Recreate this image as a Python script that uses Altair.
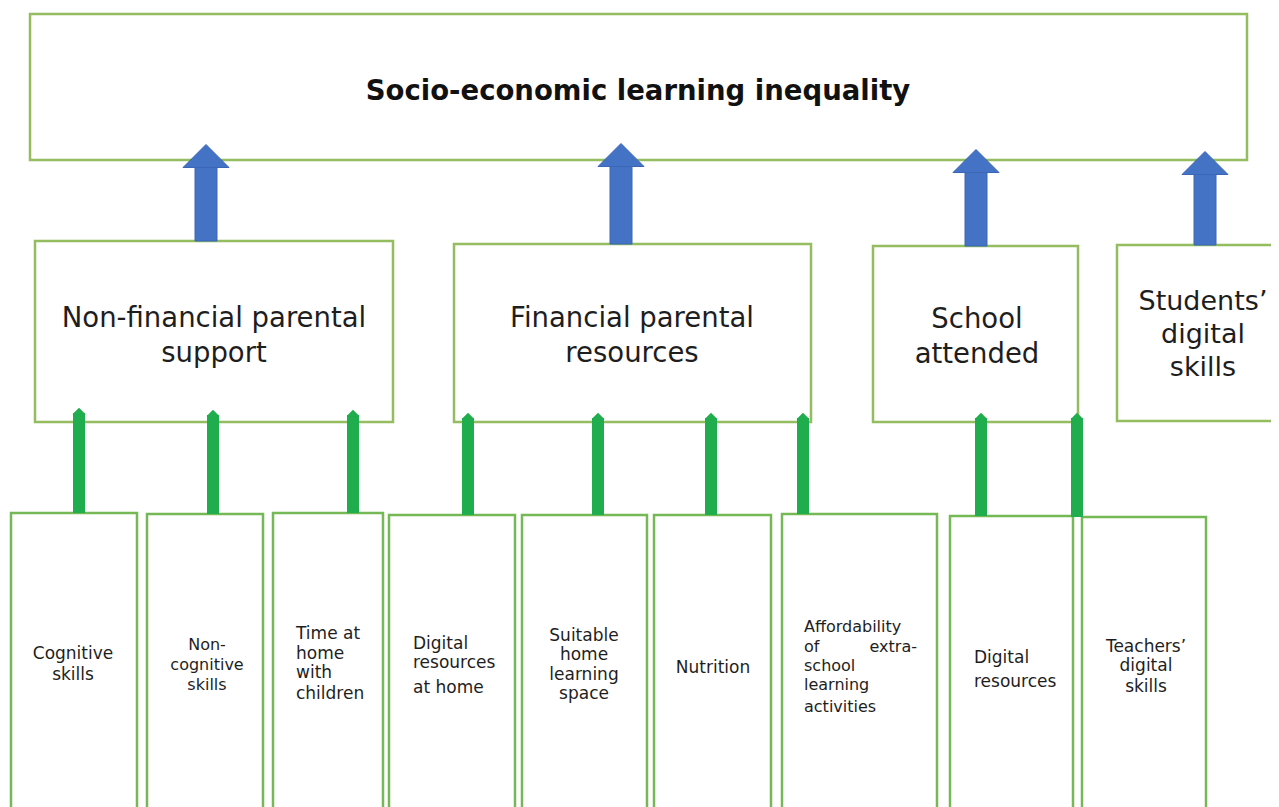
import altair as alt
import pandas as pd

# ---------------- data (diagram content) ----------------
title_text = "Socio-economic learning inequality"

mid_names = ["Non-financial parental support", "Financial parental resources",
             "School attended", "Students’ digital skills"]
mid_lines = [["Non-financial parental", "support"],
             ["Financial parental", "resources"],
             ["School", "attended"],
             ["Students’", "digital", "skills"]]

bottom_names = ["Cognitive skills", "Non-cognitive skills", "Time at home with children",
                "Digital resources at home", "Suitable home learning space", "Nutrition",
                "Affordability of extra-school learning activities", "Digital resources",
                "Teachers’ digital skills"]
bottom_lines = [["Cognitive", "skills"],
                ["Non-", "cognitive", "skills"],
                ["Time at", "home", "with", "children"],
                ["Digital", "resources", "at home"],
                ["Suitable", "home", "learning", "space"],
                ["Nutrition"],
                ["Affordability", "of", "school", "learning", "activities"],
                ["Digital", "resources"],
                ["Teachers’", "digital", "skills"]]
# which middle box each bottom factor feeds into
bottom_parent = [0, 0, 0, 1, 1, 1, 1, 2, 2]

# ---------------- layout (pixel frame of the 1279x807 page) ----------------
top_box = dict(x1=30, x2=1247, y1=14, y2=160)
title_pos = dict(x=638, y=100, size=27.5)

mid_x1 = [35, 454, 873, 1117]
mid_x2 = [393, 811, 1078, 1290]
mid_y1 = [241, 244, 246, 245]
mid_y2 = [422, 422, 422, 421]
mid_text_x = [214, 632, 977, 1203]
mid_text_base = [[327, 362], [327, 362], [328, 363], [310, 343, 376]]
mid_text_size = [27.5, 27.5, 27.5, 27]

bot_x1 = [11, 147, 273, 389, 522, 654, 782, 950, 1082]
bot_x2 = [137, 263, 383, 515, 647, 771, 937, 1073, 1206]
bot_y1 = [513, 514, 513, 515, 515, 515, 514, 516, 517]
bot_y2 = 815
bot_text_x = [73, 207, 296, 413, 584, 713, 804, 974, 1146]
bot_text_align = ["center", "center", "left", "left", "center", "center", "left", "left", "center"]
bot_text_base = [[659, 680], [650, 670, 690], [639, 659, 678, 699], [649, 668, 693],
                 [641, 660, 680, 699], [673], [632, 652, 671, 690, 712], [663, 687],
                 [652, 671, 692]]
bot_text_size = [17, 16, 17, 17, 17, 17, 16, 17, 17]
extra_word = dict(text="extra-", x=917, y=652, size=16)

blue_x = [206, 621, 976, 1205]
blue_tip = [145, 144, 150, 152]
blue_end = mid_y1
green_x = [79, 213, 353, 468, 598, 711, 803, 981, 1077]
green_tip = [408, 410, 410, 413, 413, 413, 413, 413, 413]
green_end = bot_y1

BLUE = "#4472C4"
BLUE_EDGE = "#3A66B5"
GREEN = "#1FAD4E"
BOX_TOP = "#93BD5E"
BOX_BOT = "#74B956"
TEXT = "#1E1E1E"
FONT = "DejaVu Sans"

# page frame: 8px margin around the chart in a 1279x807 window
W, H = 1263, 799

# ---------------- tables ----------------
xs = alt.Scale(domain=[8, 8 + W], nice=False, zero=False)
ys = alt.Scale(domain=[8, 8 + H], nice=False, zero=False, reverse=True)
X = lambda f: alt.X(f, type="quantitative", scale=xs, axis=None)
Y = lambda f: alt.Y(f, type="quantitative", scale=ys, axis=None)

boxes_top = pd.DataFrame(
    [dict(name=title_text, **top_box)] +
    [dict(name=n, x1=a, x2=b, y1=c, y2=d)
     for n, a, b, c, d in zip(mid_names, mid_x1, mid_x2, mid_y1, mid_y2)])
boxes_bot = pd.DataFrame([dict(name=n, x1=a, x2=b, y1=c, y2=bot_y2)
                          for n, a, b, c in zip(bottom_names, bot_x1, bot_x2, bot_y1)])

blue_df = pd.DataFrame(dict(x=blue_x, tip=blue_tip, end=blue_end))
blue_df["xl"] = blue_df.x - 11
blue_df["xr"] = blue_df.x + 11
blue_df["shaft_top"] = blue_df.tip + 21
blue_df["head_c"] = blue_df.tip + 11

green_df = pd.DataFrame(dict(x=green_x, tip=green_tip, end=green_end,
                             parent=[mid_names[p] for p in bottom_parent]))
green_df["xl"] = green_df.x - 6
green_df["xr"] = green_df.x + 6
green_df["shaft_top"] = green_df.tip + 5
green_df["head_c"] = green_df.tip + 3

mid_rows = []
for lines, x, bases, s in zip(mid_lines, mid_text_x, mid_text_base, mid_text_size):
    for t, b in zip(lines, bases):
        mid_rows.append(dict(text=t, x=x, y=b, size=s))
mid_txt = pd.DataFrame(mid_rows)

left_rows, center_rows = [], []
for lines, x, al, bases, s in zip(bottom_lines, bot_text_x, bot_text_align,
                                  bot_text_base, bot_text_size):
    for t, b in zip(lines, bases):
        (left_rows if al == "left" else center_rows).append(dict(text=t, x=x, y=b, size=s))
bot_left = pd.DataFrame(left_rows)
bot_center = pd.DataFrame(center_rows)
right_df = pd.DataFrame([extra_word])
title_df = pd.DataFrame([dict(text=title_text, **title_pos)])

# ---------------- marks ----------------
rect_top = alt.Chart(boxes_top).mark_rect(
    fill="white", stroke=BOX_TOP, strokeWidth=2.5, clip=True
).encode(x=X("x1"), x2="x2", y=Y("y1"), y2="y2")

rect_bot = alt.Chart(boxes_bot).mark_rect(
    fill="white", stroke=BOX_BOT, strokeWidth=2.5, clip=True
).encode(x=X("x1"), x2="x2", y=Y("y1"), y2="y2")

blue_shaft = alt.Chart(blue_df).mark_rect(
    fill=BLUE, stroke=BLUE_EDGE, strokeWidth=1
).encode(x=X("xl"), x2="xr", y=Y("shaft_top"), y2="end")
blue_head = alt.Chart(blue_df).mark_point(
    shape="M-1,0.5L0,-0.5L1,0.5Z", filled=True, fill=BLUE, stroke=BLUE_EDGE,
    strokeWidth=1, opacity=1, size=46 * 46
).encode(x=X("x"), y=Y("head_c"))

green_shaft = alt.Chart(green_df).mark_rect(fill=GREEN).encode(
    x=X("xl"), x2="xr", y=Y("shaft_top"), y2="end")
green_head = alt.Chart(green_df).mark_point(
    shape="M-1,0.5L0,-0.5L1,0.5Z", filled=True, fill=GREEN, opacity=1,
    size=13 * 13, strokeWidth=0
).encode(x=X("x"), y=Y("head_c"))

title_mark = alt.Chart(title_df).mark_text(
    font=FONT, fontWeight="bold", align="center", baseline="alphabetic", color="#111"
).encode(x=X("x"), y=Y("y"), text="text:N", size=alt.Size("size:Q", scale=None))

mid_mark = alt.Chart(mid_txt).mark_text(
    font=FONT, align="center", baseline="alphabetic", color=TEXT
).encode(x=X("x"), y=Y("y"), text="text:N", size=alt.Size("size:Q", scale=None))

bl_mark = alt.Chart(bot_left).mark_text(
    font=FONT, align="left", baseline="alphabetic", color=TEXT
).encode(x=X("x"), y=Y("y"), text="text:N", size=alt.Size("size:Q", scale=None))
bc_mark = alt.Chart(bot_center).mark_text(
    font=FONT, align="center", baseline="alphabetic", color=TEXT
).encode(x=X("x"), y=Y("y"), text="text:N", size=alt.Size("size:Q", scale=None))
br_mark = alt.Chart(right_df).mark_text(
    font=FONT, align="right", baseline="alphabetic", color=TEXT
).encode(x=X("x"), y=Y("y"), text="text:N", size=alt.Size("size:Q", scale=None))

chart = alt.layer(
    rect_top, rect_bot, blue_shaft, blue_head, green_shaft, green_head,
    title_mark, mid_mark, bl_mark, bc_mark, br_mark
).properties(
    width=W, height=H, padding=0, background="white",
    autosize=alt.AutoSizeParams(type="none")
).configure_view(stroke=None)

chart.save("out.html", embed_options={"renderer": "svg", "actions": False})
